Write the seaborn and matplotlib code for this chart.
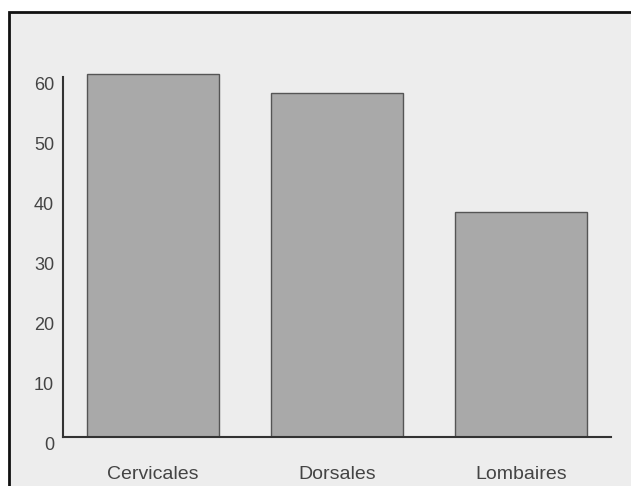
import matplotlib
matplotlib.use("Agg")
import matplotlib.pyplot as plt
import matplotlib.transforms as mtransforms
import seaborn as sns
import pandas as pd
from matplotlib.patches import Rectangle

# values
regions = ["Cervicales", "Dorsales", "Lombaires"]
counts = [60.5, 57.3, 37.5]
yticks = [0, 10, 20, 30, 40, 50, 60]

df = pd.DataFrame({"region": regions, "count": counts})

sns.set_style("white")
plt.rcParams["font.family"] = ["Liberation Sans", "DejaVu Sans"]

fig = plt.figure(figsize=(6.31, 4.86), dpi=100)
fig.patch.set_facecolor("white")

# scanned page frame
fig.patches.append(Rectangle((9 / 631, -0.05), 1.1, 1 - 12 / 486 + 0.05,
                             transform=fig.transFigure, facecolor="#ededed",
                             edgecolor="#111111", linewidth=2, zorder=-1))

ax = fig.add_axes([63 / 631, 1 - 437 / 486, (611 - 63) / 631, (437 - 65) / 486])
ax.set_zorder(1)
ax.set_facecolor("none")

sns.barplot(data=df, x="region", y="count", color="#a9a9a9", saturation=1,
            width=0.72, edgecolor="#555555", linewidth=1, ax=ax)

ax.set_xlim(-0.49, 2.49)
ax.set_ylim(0, 62)
ax.set_yticks(yticks)
ax.set_xlabel("")
ax.set_ylabel("")
sns.despine(ax=ax)
ax.spines["left"].set_bounds(0, 60)
for side in ["left", "bottom"]:
    ax.spines[side].set_color("#333333")
    ax.spines[side].set_linewidth(1.5)
ax.tick_params(axis="y", length=0, pad=6.5, labelsize=13, labelcolor="#444444")
ax.tick_params(axis="x", length=0, pad=21, labelsize=14, labelcolor="#444444")

# y labels sit a little below their gridline in the scan
shift = mtransforms.ScaledTranslation(0, -5 / 72, fig.dpi_scale_trans)
for lab in ax.get_yticklabels():
    lab.set_transform(lab.get_transform() + shift)

fig.savefig("out.png", dpi=100)
